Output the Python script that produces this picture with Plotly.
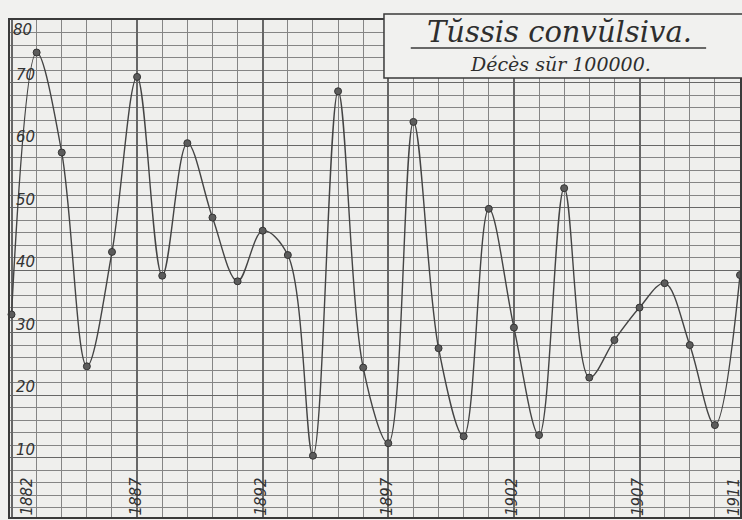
import plotly.graph_objects as go

# ---- data ----
years = list(range(1882, 1912))
deaths = [32.9, 74.8, 58.8, 24.6, 42.9, 70.9, 39.1, 60.3, 48.4, 38.2,
          46.3, 42.4, 10.3, 68.6, 24.4, 12.3, 63.7, 27.5, 13.4, 49.8,
          30.8, 13.6, 53.1, 22.8, 28.8, 34.0, 37.9, 28.0, 15.2, 39.2]
y_tick_values = [10, 20, 30, 40, 50, 60, 70, 80]
x_label_years = [1882, 1887, 1892, 1897, 1902, 1907, 1911]
title_text = "Tŭssis convŭlsiva."
subtitle_text = "Décès sŭr 100000."

PAPER = "#f1f1ef"
PLOT = "#efefed"
INK = "#444444"
GRID = "#858585"
GRID_MAJOR = "#676767"

fig = go.Figure()
fig.add_trace(go.Scatter(
    x=years, y=deaths, mode="lines+markers",
    line=dict(shape="spline", smoothing=1.0, color=INK, width=1.4),
    marker=dict(size=7, color="#5c5c5c", line=dict(color="#333333", width=1)),
    cliponaxis=False, hoverinfo="x+y", showlegend=False,
))

annotations = []
num_font = dict(family="DejaVu Sans", size=15, color="#333333", style="italic")
for v in y_tick_values:
    if v == y_tick_values[-1]:
        annotations.append(dict(x=0, xref="paper", y=v, yref="y", text=str(v),
                                xanchor="left", yanchor="top", xshift=1, yshift=1,
                                showarrow=False, font=num_font))
    else:
        annotations.append(dict(x=0, xref="paper", y=v, yref="y", text=str(v),
                                xanchor="left", yanchor="bottom", xshift=4, yshift=-3,
                                showarrow=False, font=num_font))

yr_font = dict(family="DejaVu Sans", size=15, color="#333333", style="italic")
for yr in x_label_years:
    shift = 15 if yr == x_label_years[0] else (-6 if yr == x_label_years[-1] else -2)
    annotations.append(dict(x=yr, xref="x", y=0.5, yref="y", text=str(yr),
                            textangle=-90, xanchor="center", yanchor="bottom",
                            xshift=shift, yshift=-1, showarrow=False, font=yr_font))

annotations.append(dict(x=0.7527, xref="paper", y=0.975, yref="paper",
                        text=title_text, showarrow=False, xanchor="center", yanchor="middle",
                        font=dict(family="DejaVu Serif", size=29, color="#2e2e2e", style="italic")))
annotations.append(dict(x=0.754, xref="paper", y=0.912, yref="paper",
                        text=subtitle_text, showarrow=False, xanchor="center", yanchor="middle",
                        font=dict(family="DejaVu Serif", size=19, color="#2e2e2e", style="italic")))

shapes = [
    dict(type="rect", xref="paper", yref="paper", x0=0.5123, x1=1.02, y0=0.8833, y1=1.012,
         fillcolor=PAPER, line=dict(color="#3a3a3a", width=1.5), layer="above"),
    dict(type="line", xref="paper", yref="paper", x0=0.549, x1=0.9536, y0=0.9436, y1=0.9436,
         line=dict(color="#3a3a3a", width=1.5), layer="above"),
]

fig.update_layout(
    width=742, height=520, autosize=False,
    margin=dict(l=10, r=0, t=20, b=3, pad=0),
    paper_bgcolor=PAPER, plot_bgcolor=PLOT,
    annotations=annotations, shapes=shapes,
    xaxis=dict(range=[1881.94, 1911.0], tick0=1882, dtick=5, showticklabels=False,
               ticks="", showgrid=True, gridcolor=GRID_MAJOR, gridwidth=1.5,
               minor=dict(tick0=1882, dtick=1, showgrid=True, gridcolor=GRID, gridwidth=1.1),
               showline=True, linecolor="#3a3a3a", linewidth=1.5, mirror=True,
               zeroline=False, fixedrange=True),
    yaxis=dict(range=[0.5, 80], tick0=0, dtick=10, showticklabels=False,
               ticks="", showgrid=True, gridcolor=GRID_MAJOR, gridwidth=1.3,
               minor=dict(tick0=0, dtick=2, showgrid=True, gridcolor=GRID, gridwidth=1.1),
               showline=True, linecolor="#3a3a3a", linewidth=1.5, mirror=True,
               zeroline=False, fixedrange=True),
)

fig.write_html("out.html", config={"displayModeBar": False},
               post_script="document.body.style.margin='0';document.body.style.overflow='hidden';")
